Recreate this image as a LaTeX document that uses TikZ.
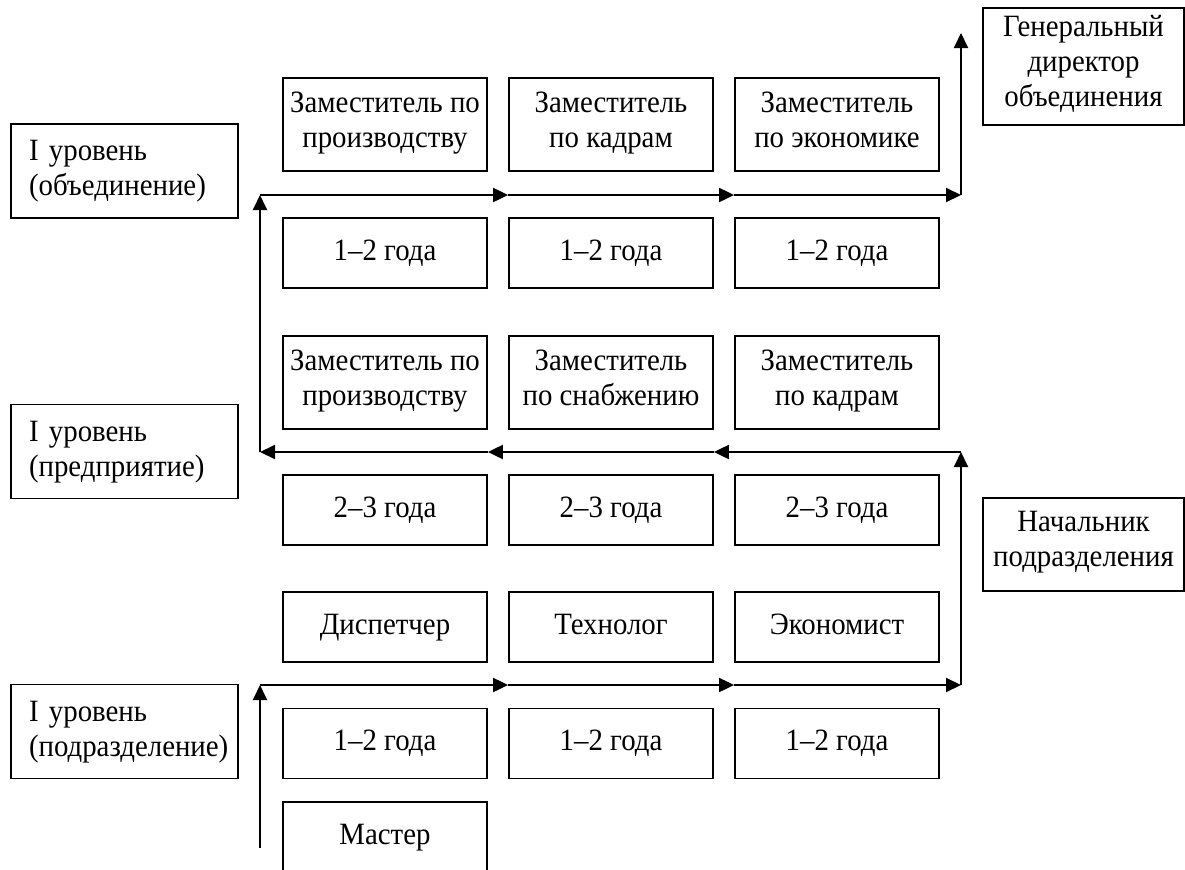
\documentclass[tikz,border=0pt]{standalone}
\usepackage{fontspec}
\setmainfont[FakeStretch=0.93]{Liberation Serif}
\usetikzlibrary{arrows.meta}
\begin{document}
\begin{tikzpicture}[x=0.5pt,y=-0.5pt,
  box/.style={draw,line width=0.9pt,minimum width=102pt,minimum height=35pt,inner sep=1pt,align=center,font=\fontsize{15.5pt}{17.5pt}\selectfont,execute at begin node=\strut,execute at end node=\strut},
  lvl/.style={draw,line width=0.9pt,minimum height=47pt,text width=95.5pt,inner xsep=9pt,inner ysep=1pt,align=left,font=\fontsize{15.5pt}{17.5pt}\selectfont,execute at begin node=\strut,execute at end node=\strut},
  arr/.style={line width=1pt,-{Triangle[length=7.5pt,width=7pt]}}]
\useasboundingbox (0,0) rectangle (1185,869);
% levels
\node[lvl] (lv1) at (124.5,171) {I уровень\\(объединение)};
\node[lvl] (lv2) at (124.5,451.5) {I уровень\\(предприятие)};
\node[lvl] (lv3) at (124.5,731.5) {I уровень\\(подразделение)};
% association
\node[box,minimum height=46.5pt] (z11) at (385,124.5) {Заместитель по\\производству};
\node[box,minimum height=46.5pt] (z12) at (611,124.5) {Заместитель\\по кадрам};
\node[box,minimum height=46.5pt] (z13) at (837,124.5) {Заместитель\\по экономике};
\node[box] (g11) at (385,253) {1--2 года};
\node[box] (g12) at (611,253) {1--2 года};
\node[box] (g13) at (837,253) {1--2 года};
% enterprise
\node[box,minimum height=46.5pt] (z21) at (385,382.5) {Заместитель по\\производству};
\node[box,minimum height=46.5pt] (z22) at (611,382.5) {Заместитель\\по снабжению};
\node[box,minimum height=46.5pt] (z23) at (837,382.5) {Заместитель\\по кадрам};
\node[box] (g21) at (385,510) {2--3 года};
\node[box] (g22) at (611,510) {2--3 года};
\node[box] (g23) at (837,510) {2--3 года};
% subdivision
\node[box] (s1) at (385,627) {Диспетчер};
\node[box] (s2) at (611,627) {Технолог};
\node[box] (s3) at (837,627) {Экономист};
\node[box] (g31) at (385,743.5) {1--2 года};
\node[box] (g32) at (611,743.5) {1--2 года};
\node[box] (g33) at (837,743.5) {1--2 года};
\node[box] (m) at (385,837) {Мастер};
% heads
\node[box,minimum width=100.5pt,minimum height=58.5pt] (gd) at (1083.5,66.5) {Генеральный\\директор\\объединения};
\node[box,minimum width=100.5pt,minimum height=46.5pt] (nach) at (1083.5,544.5) {Начальник\\подразделения};
% path corners
\coordinate (p1) at (260,195);
\coordinate (q1) at (961,195);
\coordinate (t1) at (961,33);
\coordinate (p2) at (260,452);
\coordinate (q2) at (961,452);
\coordinate (p3) at (260,685);
\coordinate (q3) at (961,685);
\coordinate (b3) at (260,848);
% bottom line
\draw[arr] (b3) -- (p3);
\draw[arr] (p3) -- (p3 -| s2.west);
\draw[arr] (p3 -| s2.west) -- (p3 -| s3.west);
\draw[arr] (p3 -| s3.west) -- (q3);
% middle line
\draw[arr] (q3) -- (q2);
\draw[arr] (q2) -- (q2 -| z22.east);
\draw[arr] (q2 -| z22.east) -- (q2 -| z21.east);
\draw[arr] (q2 -| z21.east) -- (p2);
% top line
\draw[arr] (p2) -- (p1);
\draw[arr] (p1) -- (p1 -| z12.west);
\draw[arr] (p1 -| z12.west) -- (p1 -| z13.west);
\draw[arr] (p1 -| z13.west) -- (q1);
\draw[arr] (q1) -- (t1);
\end{tikzpicture}
\end{document}
